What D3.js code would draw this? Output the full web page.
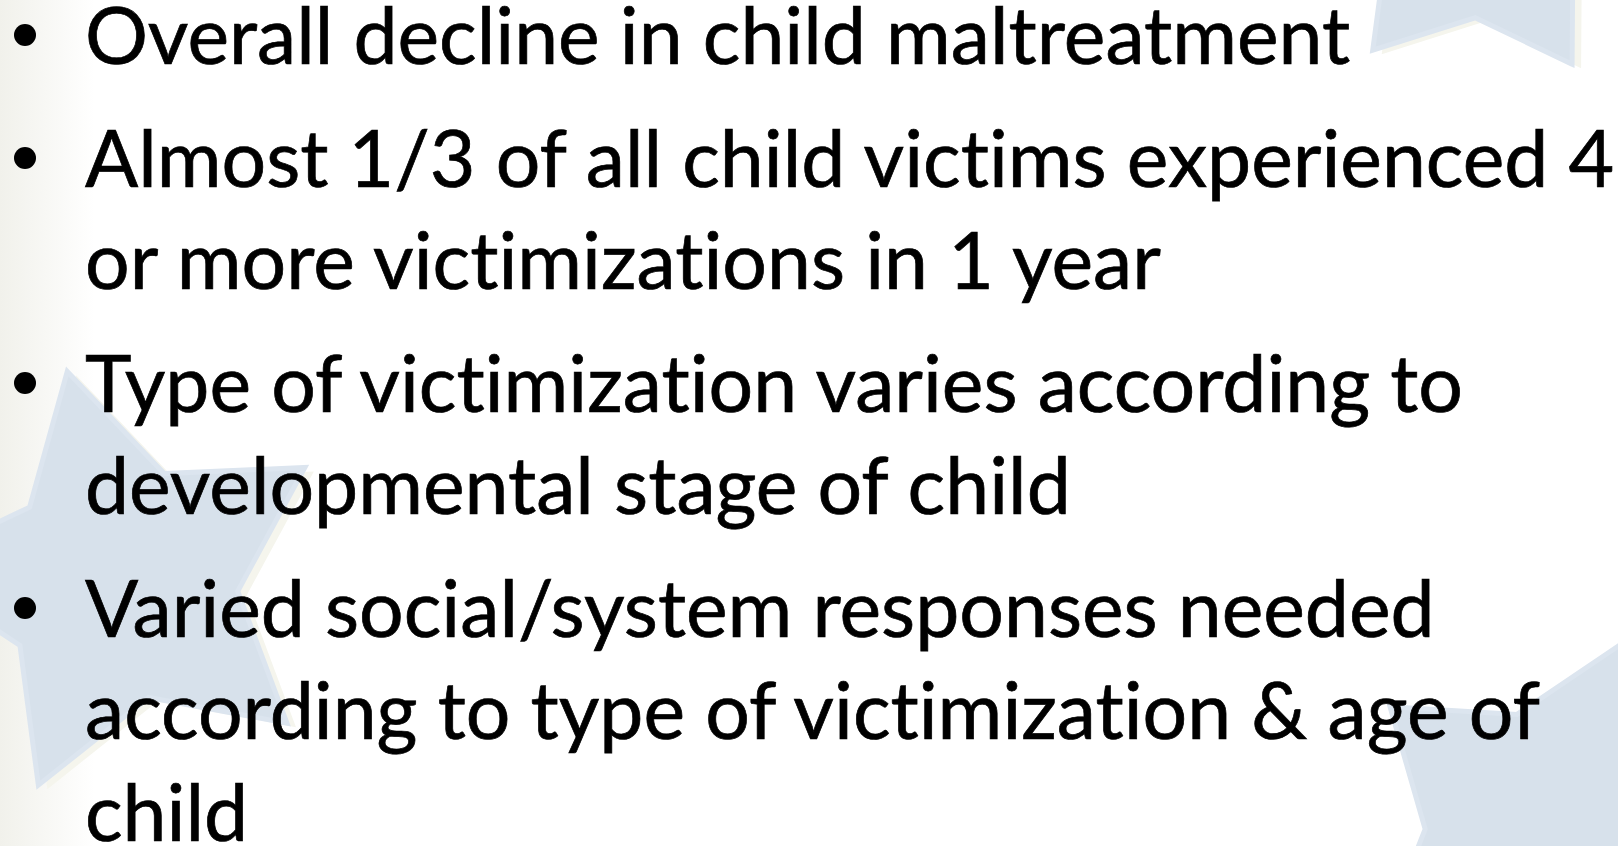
<!DOCTYPE html>
<html>
<head>
<meta charset="utf-8">
<script src="https://cdn.jsdelivr.net/npm/d3@7"></script>
<style>
  html, body { margin: 0; padding: 0; background: #fff; overflow: hidden; }
  svg { display: block; }
  text { font-variant-ligatures: none; font-feature-settings: "liga" 0, "clig" 0; }
</style>
</head>
<body>
<svg id="slide" width="1618" height="846"></svg>
<script>
// slide text, one array per bullet (each entry is a wrapped line)
var bullet1 = ["Overall decline in child maltreatment"];
var bullet2 = ["Almost 1/3 of all child victims experienced 4", "or more victimizations in 1 year"];
var bullet3 = ["Type of victimization varies according to", "developmental stage of child"];
var bullet4 = ["Varied social/system responses needed", "according to type of victimization & age of", "child"];
var bullets = [bullet1, bullet2, bullet3, bullet4];

var W = 1618, H = 846;
var layout = {
  textX: 85, bulletX: 25, bulletR: 11, bulletRise: 29,
  firstBase: 64, lineStep: 102, paraGap: 21,
  fontSize: 79, line1Width: 1272, line2Width: 1521
};

// background stars: centre, outer / inner radius, angle of first tip (deg)
var stars = [
  { cx: 120, cy: 583, R: 218, r: 118, a0: -104 },
  { cx: 1482, cy: -80, R: 170, r: 98, a0: 58 },
  { cx: 1550, cy: 835, R: 205, r: 125, a0: 218.7 }
];

var svg = d3.select("#slide");
var defs = svg.append("defs");

var edge = defs.append("linearGradient").attr("id", "edgeGrad")
  .attr("x1", 0).attr("x2", 1).attr("y1", 0).attr("y2", 0);
edge.append("stop").attr("offset", "0%").attr("stop-color", "#f1f1eb");
edge.append("stop").attr("offset", "100%").attr("stop-color", "#ffffff");

svg.append("rect").attr("width", W).attr("height", H).attr("fill", "#fff");
svg.append("rect").attr("width", 95).attr("height", H).attr("fill", "url(#edgeGrad)");

function starPoints(s) {
  var pts = [];
  for (var k = 0; k < 10; k++) {
    var a = (s.a0 + k * 36) * Math.PI / 180,
    rad = k % 2 === 0 ? s.R : s.r;
    pts.push([s.cx + rad * Math.cos(a), s.cy + rad * Math.sin(a)]);
  }
  return pts;
}

var line = d3.line().curve(d3.curveLinearClosed);
var starGroup = svg.append("g").attr("id", "stars");

// faint cream shadow, then the pale blue star
starGroup.selectAll("path.shadow").data(stars).enter().append("path")
  .attr("class", "shadow")
  .attr("transform", "translate(9,4)")
  .attr("d", function (d) { return line(starPoints(d)); })
  .attr("fill", "#f5f5ed");

starGroup.selectAll("path.star").data(stars).enter().append("path")
  .attr("class", "star")
  .attr("d", function (d) { return line(starPoints(d)); })
  .attr("fill", "#d7e1eb")
  .attr("stroke", "#dce5ef")
  .attr("stroke-width", 5)
  .attr("stroke-linejoin", "miter");

// text
var textGroup = svg.append("g").attr("id", "bullets");
var rows = [], base = layout.firstBase;
bullets.forEach(function (b, bi) {
  if (bi > 0) base += layout.paraGap;
  b.forEach(function (txt, li) {
    rows.push({ text: txt, base: base, first: li === 0 });
    base += layout.lineStep;
  });
});

var texts = textGroup.selectAll("text").data(rows).enter().append("text")
  .attr("x", layout.textX)
  .attr("y", function (d) { return d.base; })
  .attr("font-family", "Lato, 'Open Sans', sans-serif")
  .attr("font-size", layout.fontSize)
  .attr("fill", "#000")
  .attr("stroke", "#000")
  .attr("stroke-width", 0.7)
  .text(function (d) { return d.text; });

// squeeze glyphs to the reference's narrower face
var nodes = texts.nodes(),
squeeze = (layout.line1Width / nodes[0].getComputedTextLength() +
  layout.line2Width / nodes[1].getComputedTextLength()) / 2;
texts.each(function () {
  var w = this.getComputedTextLength();
  d3.select(this).attr("textLength", w * squeeze).attr("lengthAdjust", "spacingAndGlyphs");
});

textGroup.selectAll("circle").data(rows.filter(function (d) { return d.first; })).enter()
  .append("circle")
  .attr("cx", layout.bulletX)
  .attr("cy", function (d) { return d.base - layout.bulletRise; })
  .attr("r", layout.bulletR)
  .attr("fill", "#000");
</script>
</body>
</html>
